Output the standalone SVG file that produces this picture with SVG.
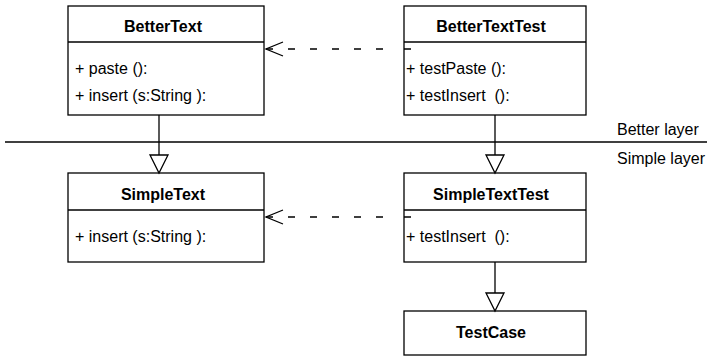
<svg xmlns="http://www.w3.org/2000/svg" width="710" height="356" viewBox="0 0 710 356">
  <style>
    .box { fill: #ffffff; stroke: #000000; stroke-width: 1.3; }
    .sep { stroke: #000000; stroke-width: 1.3; fill: none; }
    .title { font-family: "Liberation Sans", Arial, sans-serif; font-size: 16px; font-weight: bold; text-anchor: middle; fill: #000; }
    .member { font-family: "Liberation Sans", Arial, sans-serif; font-size: 16px; fill: #000; white-space: pre; }
    .layer { font-family: "Liberation Sans", Arial, sans-serif; font-size: 16px; fill: #000; }
    .line { stroke: #000000; stroke-width: 1.3; fill: none; }
    .dep { stroke: #000000; stroke-width: 1.3; fill: none; stroke-dasharray: 7 21 7 15 7 15 7 15 7 15 7 15; }
    .head { fill: #ffffff; stroke: #000000; stroke-width: 1.3; }
  </style>

  <!-- layer boundary -->
  <g id="layers">
    <line class="line" x1="5" y1="142" x2="707" y2="142"/>
    <text class="layer" x="617" y="135">Better layer</text>
    <text class="layer" x="617" y="164">Simple layer</text>
  </g>

  <g id="BetterText">
    <rect class="box" x="68" y="6" width="196" height="109"/>
    <line class="sep" x1="68" y1="42" x2="264" y2="42"/>
    <text class="title" x="163" y="32">BetterText</text>
    <text class="member" x="75" y="74">+ paste ():</text>
    <text class="member" x="75" y="101">+ insert (s:String ):</text>
  </g>

  <g id="BetterTextTest">
    <rect class="box" x="404" y="6" width="182" height="109"/>
    <line class="sep" x1="404" y1="42" x2="586" y2="42"/>
    <text class="title" x="491" y="32">BetterTextTest</text>
    <text class="member" x="406" y="74">+ testPaste ():</text>
    <text class="member" x="406" y="101">+ testInsert  ():</text>
  </g>

  <g id="SimpleText">
    <rect class="box" x="68" y="173" width="196" height="89"/>
    <line class="sep" x1="68" y1="210" x2="264" y2="210"/>
    <text class="title" x="163" y="200">SimpleText</text>
    <text class="member" x="75" y="242">+ insert (s:String ):</text>
  </g>

  <g id="SimpleTextTest">
    <rect class="box" x="404" y="173" width="182" height="89"/>
    <line class="sep" x1="404" y1="210" x2="586" y2="210"/>
    <text class="title" x="491" y="200">SimpleTextTest</text>
    <text class="member" x="406" y="242">+ testInsert  ():</text>
  </g>

  <g id="TestCase">
    <rect class="box" x="404" y="311" width="182" height="44"/>
    <text class="title" x="491" y="338">TestCase</text>
  </g>

  <!-- connectors, drawn over the class boxes -->
  <g id="connectors">
    <!-- BetterTextTest uses BetterText -->
    <path class="dep" d="M411,49 L266,49"/>
    <path class="line" d="M283,42 L266,49 L283,56"/>
    <!-- SimpleTextTest uses SimpleText -->
    <path class="dep" d="M411,217 L266,217"/>
    <path class="line" d="M283,210 L266,217 L283,224"/>
    <!-- BetterText extends SimpleText -->
    <line class="line" x1="159" y1="115" x2="159" y2="155"/>
    <path class="head" d="M150,155 L168,155 L159,173 Z"/>
    <!-- BetterTextTest extends SimpleTextTest -->
    <line class="line" x1="495" y1="115" x2="495" y2="155"/>
    <path class="head" d="M486,155 L504,155 L495,173 Z"/>
    <!-- SimpleTextTest extends TestCase -->
    <line class="line" x1="495" y1="262" x2="495" y2="293"/>
    <path class="head" d="M486,293 L504,293 L495,311 Z"/>
  </g>
</svg>
